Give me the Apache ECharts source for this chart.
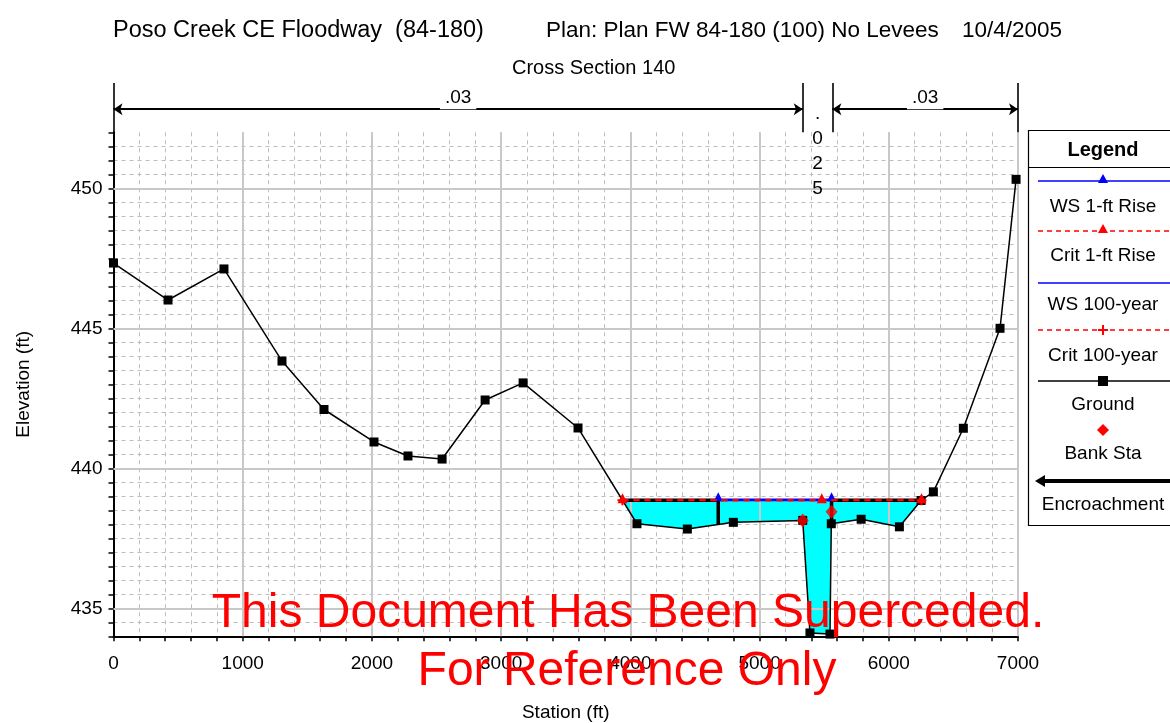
<!DOCTYPE html>
<html><head><meta charset="utf-8">
<script src="https://cdn.jsdelivr.net/npm/echarts@6/dist/echarts.min.js"></script>
<style>html,body{margin:0;padding:0;background:#fff}#c{width:1170px;height:723px}</style>
</head><body><div id="c"></div>
<script>
// ---------------- DATA ----------------
const groundSta  = [0, 422, 855, 1304, 1629, 2016, 2279, 2543, 2876, 3170, 3595, 4051, 4441, 4797, 5334, 5390, 5545, 5555, 5786, 6082, 6250, 6345, 6577, 6861, 6985];
const groundElev = [447.33, 446.01, 447.12, 443.83, 442.10, 440.94, 440.44, 440.33, 442.44, 443.05, 441.44, 438.02, 437.83, 438.07, 438.14, 434.12, 434.08, 438.02, 438.18, 437.91, 438.85, 439.16, 441.43, 445.00, 450.32];
const bankSta  = [5334, 5557];
const bankElev = [438.14, 438.45];
const encroachSta = [4680, 5557];
const wsRiseElev = 438.88;
const ws100Elev = 438.86;
const critRiseSta = [3939, 5481, 6253];
const critRiseElev = 438.86;
const crit100Sta = [3939, 6253];
const crit100Elev = 438.86;
const nBreaks = [0, 5334, 5563, 7000];
const nValues = ['.03', '.025', '.03'];
const xMajorTicks = [1000, 2000, 3000, 4000, 5000, 6000, 7000];
const yMajorTicks = [435, 440, 445, 450];

// ---------------- HELPERS ----------------
function groundAt(s){
  for (let i=0;i<groundSta.length-1;i++){
    if (s>=groundSta[i] && s<=groundSta[i+1]){
      const t=(s-groundSta[i])/(groundSta[i+1]-groundSta[i]);
      return groundElev[i]+t*(groundElev[i+1]-groundElev[i]);
    }
  }
  return null;
}
function wetEdges(ws){
  let L=null,R=null;
  for (let i=0;i<groundSta.length-1;i++){
    const a=groundElev[i], b=groundElev[i+1];
    if (L===null && a>=ws && b<ws) L=groundSta[i]+(a-ws)/(a-b)*(groundSta[i+1]-groundSta[i]);
    if (a<ws && b>=ws) R=groundSta[i]+(ws-a)/(b-a)*(groundSta[i+1]-groundSta[i]);
  }
  return [L,R];
}
function wetPolygon(ws){
  const [L,R]=wetEdges(ws);
  const pts=[[L,ws]];
  for (let i=0;i<groundSta.length;i++){ if (groundSta[i]>L && groundSta[i]<R) pts.push([groundSta[i],groundElev[i]]); }
  pts.push([R,ws]);
  return pts;
}
const zip=(a,b)=>a.map((v,i)=>[v,b[i]]);
const [wetL, wetR] = wetEdges(ws100Elev);

const FONT='"Liberation Sans", Arial, sans-serif';
const chart=echarts.init(document.getElementById('c'),null,{renderer:'canvas'});

const plusPath='path://M0,5L10,5M5,0L5,10';
const nLabelY=0.47;

const nArrowLines=[];
[0,2].forEach(seg=>{
  nArrowLines.push([{coord:[nBreaks[seg],nLabelY], name:nValues[seg]},{coord:[nBreaks[seg+1],nLabelY]}]);
});
const dividerLines=nBreaks.map(b=>[{coord:[b,0]},{coord:[b,1]}]);

// legend graphic
const LC=1103;
function legLine(y, color, dash, w){
  return {type:'line', shape:{x1:1038,y1:y,x2:1170,y2:y}, style:{stroke:color, lineWidth:w||1.5, lineDash:dash||null}};
}
function legText(t,y){ return {type:'text', style:{text:t, x:LC, y:y, align:'center', verticalAlign:'middle', fontSize:19, fontFamily:FONT, fill:'#000'}}; }
function tri(x,y,c){ return {type:'polygon', shape:{points:[[x,y-6],[x-5,y+3],[x+5,y+3]]}, style:{fill:c}}; }
const legendG=[
  {type:'rect', shape:{x:1028.5,y:130.5,width:160,height:395}, style:{fill:'#fff',stroke:'#000',lineWidth:1.2}},
  {type:'text', style:{text:'Legend', x:LC, y:150, align:'center', verticalAlign:'middle', fontSize:20, fontWeight:'bold', fontFamily:FONT, fill:'#000'}},
  {type:'line', shape:{x1:1028,y1:167.5,x2:1170,y2:167.5}, style:{stroke:'#000',lineWidth:1.2}},
  legLine(181,'#0000ff'), tri(LC,180,'#0000ff'), legText('WS 1-ft Rise',207),
  legLine(231,'#ff0000',[5,4]), tri(LC,230,'#ff0000'), legText('Crit 1-ft Rise',256),
  legLine(283,'#0000ff'), legText('WS 100-year',305),
  legLine(330,'#ff0000',[5,4]),
  {type:'line', shape:{x1:LC-5,y1:330,x2:LC+5,y2:330}, style:{stroke:'#ff0000',lineWidth:2}},
  {type:'line', shape:{x1:LC,y1:325,x2:LC,y2:335}, style:{stroke:'#ff0000',lineWidth:2}},
  legText('Crit 100-year',356),
  legLine(381,'#000'), {type:'rect', shape:{x:LC-5,y:376,width:10,height:10}, style:{fill:'#000'}}, legText('Ground',405),
  {type:'polygon', shape:{points:[[LC,424],[LC+6,430],[LC,436],[LC-6,430]]}, style:{fill:'#ff0000'}}, legText('Bank Sta',454),
  {type:'line', shape:{x1:1042,y1:481,x2:1170,y2:481}, style:{stroke:'#000',lineWidth:4}},
  {type:'polygon', shape:{points:[[1035,481],[1045,475],[1045,487]]}, style:{fill:'#000'}},
  legText('Encroachment',505)
];

const TS={fontSize:22.5, fontWeight:'normal', fontFamily:FONT, color:'#000'};
const option={
  animation:false,
  backgroundColor:'#fff',
  title:[
    {text:'Poso Creek CE Floodway  (84-180)', left:108, top:14, textStyle:Object.assign({},TS,{fontSize:23.5})},
    {text:'Plan: Plan FW 84-180 (100) No Levees', left:541, top:14, textStyle:TS},
    {text:'10/4/2005', left:957, top:14, textStyle:TS},
    {text:'Cross Section 140', left:507, top:53, textStyle:{fontSize:20, fontWeight:'normal', fontFamily:FONT, color:'#000'}}
  ],
  grid:[
    {left:113.5, right:152, top:132.3, bottom:86.7, containLabel:false, outerBoundsMode:'none'},
    {left:113.5, right:152, top:83, height:49.3, containLabel:false, outerBoundsMode:'none'}
  ],
  xAxis:[
    {type:'value', gridIndex:0, min:0, max:7000, interval:200,
     name:'Station (ft)', nameLocation:'middle', nameGap:67, nameTextStyle:{fontSize:19, fontFamily:FONT, color:'#000'},
     axisLine:{show:true, onZero:false, lineStyle:{color:'#000', width:2}},
     axisTick:{show:true, length:5, lineStyle:{color:'#000', width:1.5}},
     axisLabel:{interval:0, margin:18, fontSize:19, fontFamily:FONT, color:'#000', formatter:v=>(v%1000===0? String(v):'')},
     splitLine:{show:true, showMinLine:false, lineStyle:{color:'#bdbdbd', type:[4,4], width:1}}},
    {type:'value', gridIndex:1, min:0, max:7000, show:false}
  ],
  yAxis:[
    {type:'value', gridIndex:0, min:434, max:452, interval:0.5,
     name:'Elevation (ft)', nameLocation:'middle', nameGap:80, nameRotate:90, nameTextStyle:{fontSize:19, fontFamily:FONT, color:'#000'},
     axisLine:{show:true, onZero:false, lineStyle:{color:'#000', width:2}},
     axisTick:{show:true, length:5, lineStyle:{color:'#000', width:1.5}},
     axisLabel:{interval:0, margin:11, fontSize:19, fontFamily:FONT, color:'#000', formatter:v=>(Math.abs(v%5)<1e-9? String(v):'')},
     splitLine:{show:true, showMaxLine:false, showMinLine:false, lineStyle:{color:'#bdbdbd', type:[4,4], width:1}}},
    {type:'value', gridIndex:1, min:0, max:1, show:false}
  ],
  graphic:[
    ...legendG,
    {type:'text', z:100, style:{text:'This Document Has Been Superceded.', x:628, y:614, align:'center', verticalAlign:'middle', fontSize:48, fontFamily:FONT, fill:'#ff0000'}},
    {type:'text', z:100, style:{text:'For Reference Only', x:627, y:672, align:'center', verticalAlign:'middle', fontSize:48, fontFamily:FONT, fill:'#ff0000'}}
  ],
  series:[
    // major grid lines
    {type:'line', xAxisIndex:0, yAxisIndex:0, z:1, data:[[0,434]], showSymbol:false, lineStyle:{opacity:0}, silent:true,
     markLine:{silent:true, symbol:'none', animation:false, label:{show:false},
       lineStyle:{color:'#c8c8c8', type:'solid', width:2},
       data:[...xMajorTicks.map(v=>({xAxis:v})), ...yMajorTicks.map(v=>({yAxis:v}))]}},
    // water fill
    {type:'custom', name:'WS 100-year fill', xAxisIndex:0, yAxisIndex:0, z:2, silent:true, data:[[0,ws100Elev]],
     renderItem:(params,api)=>({type:'polygon', shape:{points:wetPolygon(ws100Elev).map(p=>api.coord(p))}, style:{fill:'#00ffff'}})},
    // ground
    {type:'line', name:'Ground', xAxisIndex:0, yAxisIndex:0, z:5, data:zip(groundSta,groundElev),
     symbol:'rect', symbolSize:9, itemStyle:{color:'#000'}, lineStyle:{color:'#000', width:1.5}},
    // WS 100-year
    {type:'line', name:'WS 100-year', z:6, data:[[wetL,ws100Elev],[wetR,ws100Elev]], showSymbol:false, lineStyle:{color:'#0000ff', width:2}},
    // encroachment
    {type:'line', name:'Encroachment', z:7, data:[[wetL,ws100Elev],[encroachSta[0],ws100Elev],[encroachSta[0],groundAt(encroachSta[0])]], showSymbol:false, lineStyle:{color:'#000', width:3.5}},
    {type:'line', name:'Encroachment', z:7, data:[[encroachSta[1],groundAt(encroachSta[1])],[encroachSta[1],ws100Elev],[wetR,ws100Elev]], showSymbol:false, lineStyle:{color:'#000', width:3.5}},
    // WS 1-ft rise
    {type:'line', name:'WS 1-ft Rise', z:8, data:encroachSta.map(s=>[s,wsRiseElev]), symbol:'triangle', symbolSize:[9,9], symbolOffset:[0,-3], itemStyle:{color:'#0000ff'}, lineStyle:{color:'#0000ff', width:2.5}},
    // Crit 100-year
    {type:'line', name:'Crit 100-year', z:9, data:crit100Sta.map(s=>[s,crit100Elev]), symbol:plusPath, symbolSize:10, itemStyle:{color:'#ff0000', borderColor:'#ff0000', borderWidth:2}, lineStyle:{color:'#ff0000', width:2, type:[6,5]}},
    // Crit 1-ft rise
    {type:'line', name:'Crit 1-ft Rise', z:10, data:critRiseSta.map(s=>[s,critRiseElev]), symbol:'triangle', symbolSize:[10,10], symbolOffset:[0,-2], itemStyle:{color:'#ff0000'}, lineStyle:{color:'#ff0000', width:2, type:[6,5]}},
    // Bank stations
    {type:'scatter', name:'Bank Sta', z:11, data:zip(bankSta,bankElev), symbol:'diamond', symbolSize:[12,14], itemStyle:{color:'#ff0000'}},
    // middle n-value, vertical
    {type:'scatter', z:12, xAxisIndex:0, yAxisIndex:0, data:[[(nBreaks[1]+nBreaks[2])/2, 451.32]], symbolSize:1, silent:true,
     itemStyle:{color:'#000', opacity:0},
     label:{show:true, position:'inside', formatter:()=>nValues[1].split('').join('\n'), fontSize:19, lineHeight:25, fontFamily:FONT, color:'#000', opacity:1, textBorderWidth:0}},
    // n-value dividers and arrows
    {type:'line', xAxisIndex:1, yAxisIndex:1, z:5, data:[[0,0]], showSymbol:false, lineStyle:{opacity:0}, silent:true,
     markLine:{silent:true, animation:false, symbol:'none', label:{show:false},
       lineStyle:{color:'#000', type:'solid', width:1.6},
       data:dividerLines}},
    {type:'line', xAxisIndex:1, yAxisIndex:1, z:6, data:[[0,0]], showSymbol:false, lineStyle:{opacity:0}, silent:true,
     markLine:{silent:true, animation:false, symbol:['arrow','arrow'], symbolSize:[9,9],
       lineStyle:{color:'#000', type:'solid', width:2},
       label:{show:true, position:'middle', formatter:p=>p.name, fontSize:19, fontFamily:FONT, color:'#000', backgroundColor:'#fff', padding:[2,5], distance:0},
       data:nArrowLines}}
  ]
};
chart.setOption(option);
</script></body></html>
